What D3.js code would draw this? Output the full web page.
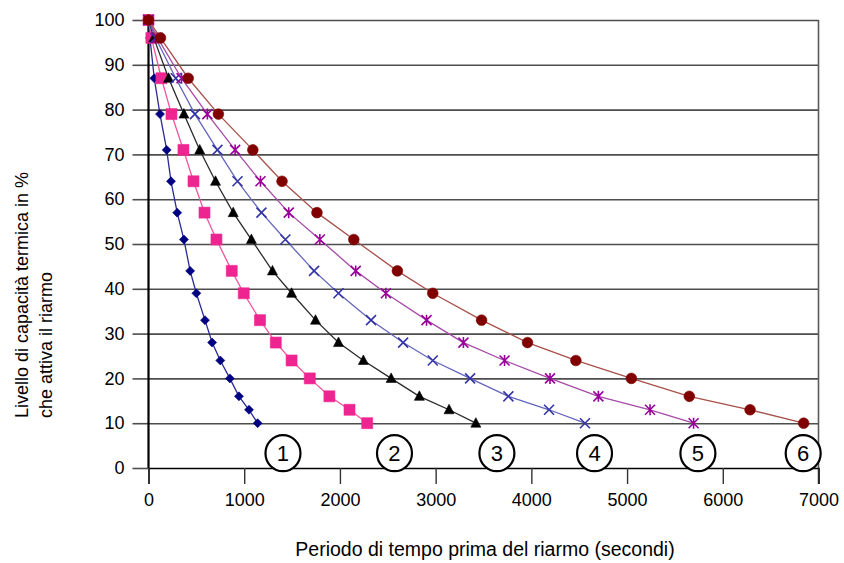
<!DOCTYPE html>
<html>
<head>
<meta charset="utf-8">
<script src="https://cdn.jsdelivr.net/npm/d3@7"></script>
<style>
  body { margin: 0; background: #fff; }
  svg { display: block; font-family: "Liberation Sans", Arial, sans-serif; }
</style>
</head>
<body>
<svg id="chart" width="844" height="563"></svg>
<script>
// Thermal capacity level (%) at which reset is enabled, shared by every curve
const levels = [100, 96, 87, 79, 71, 64, 57, 51, 44, 39, 33, 28, 24, 20, 16, 13, 10];

// Time before reset (seconds) for each curve, one value per level
const curve1 = [0, 15, 60, 120, 190, 235, 300, 370, 435, 500, 590, 665, 750, 850, 945, 1050, 1140];
const curve2 = [0, 30, 135, 240, 365, 470, 585, 710, 870, 995, 1165, 1330, 1495, 1685, 1890, 2100, 2285];
const curve3 = [0, 55, 210, 370, 535, 700, 885, 1075, 1295, 1495, 1745, 1985, 2245, 2535, 2830, 3140, 3420];
const curve4 = [0, 75, 285, 485, 720, 930, 1180, 1430, 1730, 1985, 2325, 2660, 2970, 3360, 3760, 4185, 4560];
const curve5 = [0, 95, 345, 615, 905, 1170, 1465, 1790, 2165, 2480, 2905, 3290, 3720, 4195, 4700, 5240, 5695];
const curve6 = [0, 125, 415, 730, 1090, 1395, 1760, 2145, 2600, 2970, 3480, 3960, 4465, 5045, 5650, 6285, 6845];

const curveNames = ["1", "2", "3", "4", "5", "6"];
const curveTimes = [curve1, curve2, curve3, curve4, curve5, curve6];

// Numbered tags that name each curve, placed just above the time axis (data units)
const tagTimes = [1405, 2570, 3640, 4660, 5740, 6840];
const tagLevel = 3.3;

const xTicks = [0, 1000, 2000, 3000, 4000, 5000, 6000, 7000];
const yTicks = [0, 10, 20, 30, 40, 50, 60, 70, 80, 90, 100];

const xTitle = "Periodo di tempo prima del riarmo (secondi)";
const yTitleLines = ["Livello di capacità termica in %", "che attiva il riarmo"];

// ---- styles ----
const markerKinds = ["diamond", "square", "triangle", "times", "star", "circle"];
const markerColors = ["#000080", "#ee2590", "#000000", "#3434a8", "#990099", "#800000"];
const lineColors = ["#2a2a95", "#f0559f", "#2a2a2a", "#6565bd", "#a64aa8", "#a8504a"];

const svg = d3.select("#chart");
const x = d3.scaleLinear().domain([0, 7000]).range([148.5, 818.5]);
const y = d3.scaleLinear().domain([0, 100]).range([468, 20]);

// horizontal gridlines (with tick stubs to the left of the axis)
svg.append("g")
  .attr("transform", `translate(${x(0)},0)`)
  .call(d3.axisLeft(y).tickValues(yTicks.filter(v => v > 0)).tickSize(-(x(7000) - x(0))).tickFormat(""))
  .call(g => g.select(".domain").remove())
  .call(g => g.selectAll(".tick line").attr("stroke", "#4d4d4d").attr("stroke-width", 1.6));

// y tick stubs and labels
svg.append("g")
  .attr("transform", `translate(${x(0)},0)`)
  .call(d3.axisLeft(y).tickValues(yTicks).tickSize(16).tickPadding(8).tickFormat(d3.format("d")))
  .call(g => g.select(".domain").remove())
  .call(g => g.selectAll(".tick line").attr("stroke", "#4d4d4d").attr("stroke-width", 1.6))
  .call(g => g.selectAll(".tick text").attr("fill", "#000").attr("font-size", 18)
     .attr("font-family", "Liberation Sans, Arial, sans-serif"));

// right border of the plot area
svg.append("line")
  .attr("x1", x(7000)).attr("x2", x(7000))
  .attr("y1", y(100)).attr("y2", y(0) + 16)
  .attr("stroke", "#5a5a5a").attr("stroke-width", 1.6);

// time axis
svg.append("g")
  .attr("transform", `translate(0,${y(0)})`)
  .call(d3.axisBottom(x).tickValues(xTicks).tickSize(16).tickPadding(9).tickFormat(d3.format("d")))
  .call(g => g.select(".domain").attr("stroke", "#000").attr("stroke-width", 1.6))
  .call(g => g.selectAll(".tick line").attr("stroke", "#333").attr("stroke-width", 1.4))
  .call(g => g.selectAll(".tick text").attr("fill", "#000").attr("font-size", 18)
     .attr("font-family", "Liberation Sans, Arial, sans-serif"));

// level axis
svg.append("line")
  .attr("x1", x(0)).attr("x2", x(0))
  .attr("y1", y(100)).attr("y2", y(0))
  .attr("stroke", "#000").attr("stroke-width", 2.2);

// numbered tags
const tags = svg.append("g").selectAll("g").data(curveNames).join("g")
  .attr("transform", (d, i) => `translate(${x(tagTimes[i])},${y(tagLevel)})`);
tags.append("ellipse").attr("rx", 17.5).attr("ry", 18)
  .attr("fill", "#fff").attr("stroke", "#000").attr("stroke-width", 2.2);
tags.append("text").text(d => d)
  .attr("text-anchor", "middle").attr("dy", "0.36em")
  .attr("font-size", 22).attr("fill", "#000");

// marker shapes
function markerPath(kind) {
  switch (kind) {
    case "diamond": return "M0,-4.5L4.5,0L0,4.5L-4.5,0Z";
    case "square": return "M-5.5,-5.5H5.5V5.5H-5.5Z";
    case "triangle": return "M0,-5.5L5,4L-5,4Z";
    case "times": return "M-5,-5L5,5M-5,5L5,-5";
    case "star": return "M-5,-5L5,5M-5,5L5,-5M0,-5.5V5.5";
    default: return d3.symbol(d3.symbolCircle, 90)();
  }
}

const line = d3.line().x(d => x(d.t)).y(d => y(d.v));

curveTimes.forEach((times, i) => {
  const pts = times.map((t, j) => ({ t, v: levels[j] }));
  const g = svg.append("g").attr("class", "curve-" + curveNames[i]);
  g.append("path").datum(pts)
    .attr("d", line).attr("fill", "none")
    .attr("stroke", lineColors[i]).attr("stroke-width", 1.3);
  const kind = markerKinds[i];
  const open = kind === "times" || kind === "star";
  g.selectAll("path.m").data(pts).join("path").attr("class", "m")
    .attr("transform", d => `translate(${x(d.t)},${y(d.v)})`)
    .attr("d", markerPath(kind))
    .attr("fill", open ? "none" : markerColors[i])
    .attr("stroke", markerColors[i])
    .attr("stroke-width", open ? 1.6 : 0.6);
});

// axis titles
svg.append("text")
  .attr("x", 485).attr("y", 556)
  .attr("text-anchor", "middle").attr("font-size", 19.5).attr("fill", "#000")
  .text(xTitle);

const yt = svg.append("text")
  .attr("transform", "translate(0,418) rotate(-90)")
  .attr("font-size", 18).attr("fill", "#000");
yTitleLines.forEach((s, i) => {
  yt.append("tspan").attr("x", 0).attr("y", 28 + i * 24).text(s);
});
</script>
</body>
</html>
